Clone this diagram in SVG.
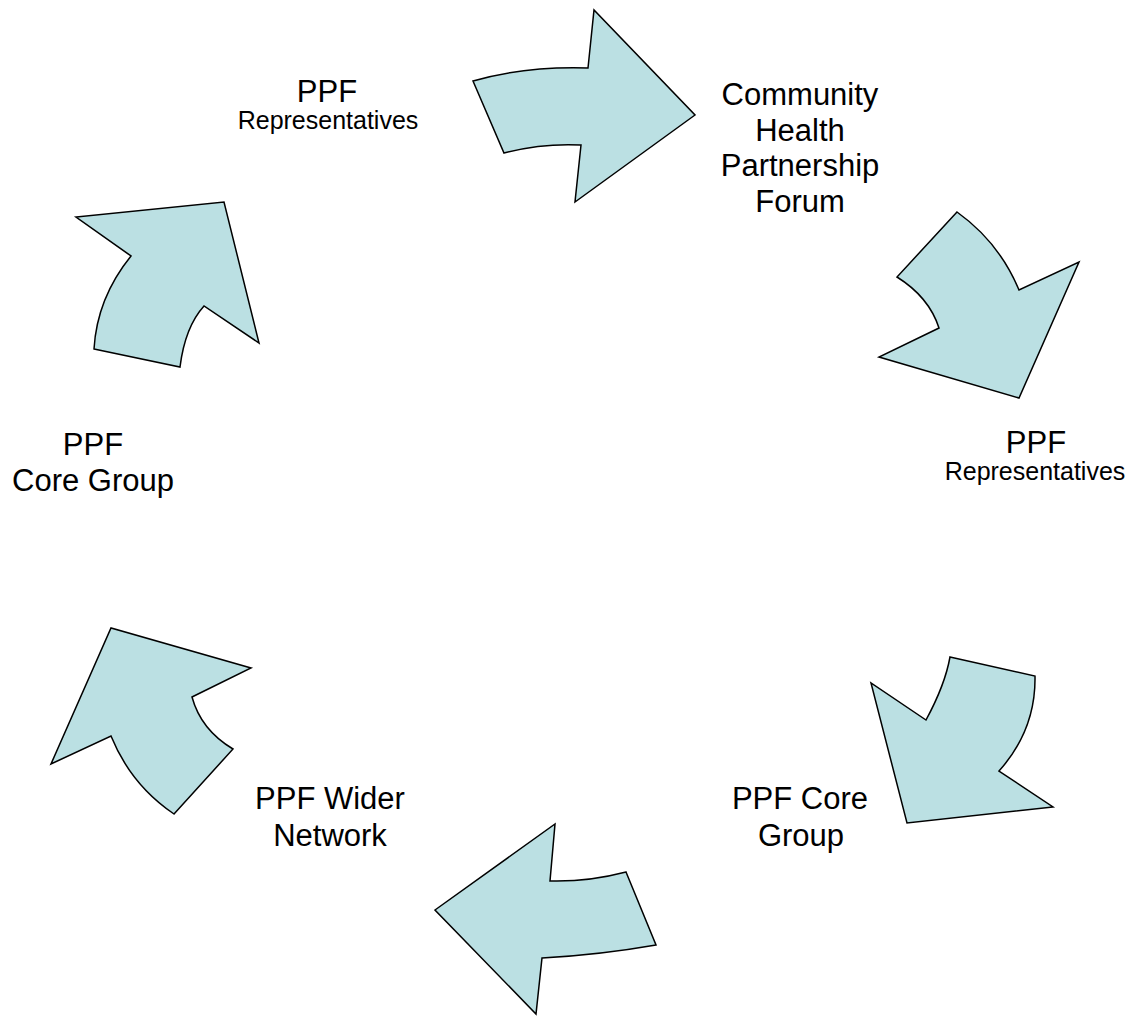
<svg xmlns="http://www.w3.org/2000/svg" width="1142" height="1017" viewBox="0 0 1142 1017">
<style>
.arr{fill:#BBE0E3;stroke:#000;stroke-width:1.5;stroke-linejoin:miter}
.lg{font-family:"Liberation Sans",Arial,sans-serif;font-size:31px;fill:#000;text-anchor:middle}
.sm{font-family:"Liberation Sans",Arial,sans-serif;font-size:25px;fill:#000;text-anchor:middle}
</style>
<rect width="1142" height="1017" fill="#fff"/>
<g id="connectors">
<path class="arr" d="M473,81 Q525,66 588,68 L594,10 L695,115 L575,202 L581,145 Q542,143 504,153 Z"/>
<path class="arr" d="M957,212 Q999,242 1019,290 L1079,262 L1019,398 L879,357 L939,328 Q929,297 897,277 Z"/>
<path class="arr" d="M950,657 L1035,676 Q1036,730 999,771 L1053,807 L907,823 L871,683 L926,720 Q945,685 950,657 Z"/>
<path class="arr" d="M626,872 L656,945 Q599,955 542,958 L536,1014 L435,910 L555,824 L550,881 Q588,882 626,872 Z"/>
<path class="arr" d="M174,814 L233,749 Q201,730 192,697 L251,668 L111,628 L51,764 L111,736 Q131,785 174,814 Z"/>
<path class="arr" d="M94,349 L180,367 Q185,327 204,306 L259,343 L224,202 L76,217 L131,256 Q97,298 94,349 Z"/>
</g>
<g id="node-ppf-reps-top">
<text class="lg" x="327" y="102">PPF</text>
<text class="sm" x="328" y="129">Representatives</text>
</g>
<g id="node-chp-forum">
<text class="lg" x="800" y="105">Community</text>
<text class="lg" x="800" y="141">Health</text>
<text class="lg" x="800" y="176">Partnership</text>
<text class="lg" x="800" y="212">Forum</text>
</g>
<g id="node-ppf-reps-right">
<text class="lg" x="1036" y="453">PPF</text>
<text class="sm" x="1035" y="480">Representatives</text>
</g>
<g id="node-ppf-core-right">
<text class="lg" x="800" y="809">PPF Core</text>
<text class="lg" x="801" y="846">Group</text>
</g>
<g id="node-ppf-wider">
<text class="lg" x="330" y="809">PPF Wider</text>
<text class="lg" x="330" y="846">Network</text>
</g>
<g id="node-ppf-core-left">
<text class="lg" x="93" y="455">PPF</text>
<text class="lg" x="93" y="491">Core Group</text>
</g>
</svg>
